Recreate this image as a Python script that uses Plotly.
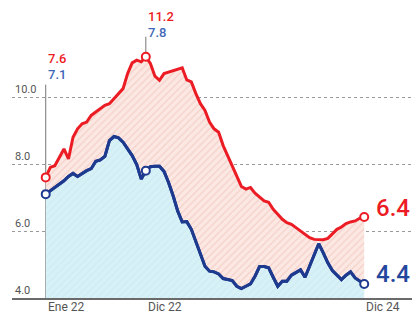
import plotly.graph_objects as go

# Half-month periods, Jan 2022 (1st half) .. Dec 2024 (1st half)
periods = list(range(71))
tick_positions = [0, 22, 70]
tick_labels = ["Ene 22", "Dic 22", "Dic 24"]

red_values = [7.6, 7.9, 7.95, 8.2, 8.45, 8.15, 8.8, 9.05, 9.2, 9.25,
              9.45, 9.55, 9.65, 9.75, 9.8, 9.95, 10.1, 10.25, 10.7, 11.02,
              11.1, 11.05, 11.2, 11.0, 10.62, 10.5, 10.7, 10.74, 10.8, 10.83,
              10.87, 10.51, 10.45, 10.1, 9.8, 9.6, 9.25, 9.05, 8.95, 8.55,
              8.25, 7.95, 7.63, 7.33, 7.25, 7.3, 7.13, 7.0, 6.9, 6.86,
              6.65, 6.5, 6.35, 6.25, 6.2, 6.1, 6.0, 5.9, 5.8, 5.75,
              5.74, 5.74, 5.78, 5.93, 6.05, 6.12, 6.22, 6.27, 6.3, 6.38,
              6.42]
blue_values = [7.1, 7.2, 7.3, 7.4, 7.5, 7.63, 7.72, 7.63, 7.72, 7.8,
               7.86, 8.08, 8.12, 8.23, 8.7, 8.82, 8.78, 8.65, 8.45, 8.25,
               7.98, 7.55, 7.8, 7.92, 7.93, 7.93, 7.78, 7.45, 7.05, 6.6,
               6.27, 6.28, 6.05, 5.7, 5.3, 4.95, 4.8, 4.78, 4.72, 4.58,
               4.55, 4.52, 4.35, 4.28, 4.35, 4.42, 4.65, 4.94, 4.94, 4.9,
               4.62, 4.35, 4.5, 4.5, 4.68, 4.76, 4.84, 4.62, 4.95, 5.3,
               5.62, 5.35, 5.05, 4.82, 4.68, 4.55, 4.68, 4.78, 4.6, 4.5,
               4.42]
y_ticks = [4, 6, 8, 10]
y_tick_labels = ["4.0", "6.0", "8.0", "10.0"]

RED = "#ec1c24"
BLUE = "#1d3a8f"
LBLUE = "#3f67b8"
FONT = "Roboto"

fig = go.Figure()

# blue area
fig.add_trace(go.Scatter(
    x=periods, y=blue_values, mode="lines",
    line=dict(color=BLUE, width=3),
    fill="tozeroy", fillcolor="#d8f1f6",
    fillpattern=dict(shape="/", fgcolor="#c3e6f0", bgcolor="#d8f1f6", size=5, solidity=0.25),
    hoverinfo="skip", showlegend=False))
# red area between lines
fig.add_trace(go.Scatter(
    x=periods, y=red_values, mode="lines",
    line=dict(color=RED, width=3),
    fill="tonexty", fillcolor="#f9e0da",
    fillpattern=dict(shape="/", fgcolor="#efb8ae", bgcolor="#fbe8e3", size=5, solidity=0.25),
    hoverinfo="skip", showlegend=False))
# blue line on top
fig.add_trace(go.Scatter(
    x=periods, y=blue_values, mode="lines",
    line=dict(color=BLUE, width=3), hoverinfo="skip", showlegend=False))

# open circle markers
fig.add_trace(go.Scatter(
    x=tick_positions, y=[red_values[i] for i in tick_positions], mode="markers",
    marker=dict(size=8, color="white", line=dict(color=RED, width=2)),
    hoverinfo="skip", showlegend=False))
fig.add_trace(go.Scatter(
    x=tick_positions, y=[blue_values[i] for i in tick_positions], mode="markers",
    marker=dict(size=8, color="white", line=dict(color=BLUE, width=2)),
    hoverinfo="skip", showlegend=False))

# vertical reference lines
fig.add_shape(type="line", x0=0, x1=0, y0=4, y1=10.37, xref="x", yref="y",
              line=dict(color="#777777", width=1), layer="below")
fig.add_shape(type="line", x0=22, x1=22, y0=4, y1=11.8, xref="x", yref="y",
              line=dict(color="#777777", width=1), layer="below")


def pair_text(i):
    return (f"<span style='color:{RED};font-size:13px'>{red_values[i]:.1f}</span><br>"
            f"<span style='color:{LBLUE};font-size:13px'>{blue_values[i]:.1f}</span>")


# top value labels (stacked red / blue)
fig.add_annotation(x=0, y=10.9, xref="x", yref="y", text=pair_text(0),
                   showarrow=False, xanchor="left", yanchor="middle", align="left",
                   font=dict(family=FONT, size=12.5, weight=500))
fig.add_annotation(x=22, y=12.17, xref="x", yref="y", text=pair_text(22),
                   showarrow=False, xanchor="left", yanchor="middle", align="left",
                   font=dict(family=FONT, size=12.5, weight=500))
# end labels
fig.add_annotation(x=72.2, y=6.68, xref="x", yref="y", text=f"{red_values[-1]:.1f}",
                   showarrow=False, xanchor="left", yanchor="middle",
                   font=dict(family=FONT, size=24, color=RED, weight=500))
fig.add_annotation(x=72.2, y=4.72, xref="x", yref="y", text=f"{blue_values[-1]:.1f}",
                   showarrow=False, xanchor="left", yanchor="middle",
                   font=dict(family=FONT, size=24, color="#24479e", weight=500))

# x tick labels, left aligned at ticks
for pos, lab in zip(tick_positions, tick_labels):
    fig.add_annotation(x=pos, y=0, xref="x", yref="paper", text=lab,
                       showarrow=False, xanchor="left", yanchor="top", yshift=0,
                       font=dict(family=FONT, size=12, color="#555555"))

# page has an 8px body margin, so the figure is sized to the remaining area
fig.update_layout(
    width=412, height=307,
    margin=dict(l=4, r=0, t=0, b=17),
    paper_bgcolor="white", plot_bgcolor="white",
    font=dict(family=FONT),
    xaxis=dict(range=[-7.41, 82.26], showgrid=False, zeroline=False,
               showticklabels=False, ticks="", showline=True,
               linecolor="#6a6a6a", linewidth=1.5, fixedrange=True),
    yaxis=dict(range=[4, 12.657], tickvals=y_ticks, ticktext=y_tick_labels,
               ticklabelposition="inside top", ticks="",
               tickfont=dict(family=FONT, size=11, color="#555555"),
               showgrid=True, gridcolor="#9a9a9a", griddash="dot", gridwidth=1,
               zeroline=False, showline=False, fixedrange=True),
)

fig.write_html("out.html")
